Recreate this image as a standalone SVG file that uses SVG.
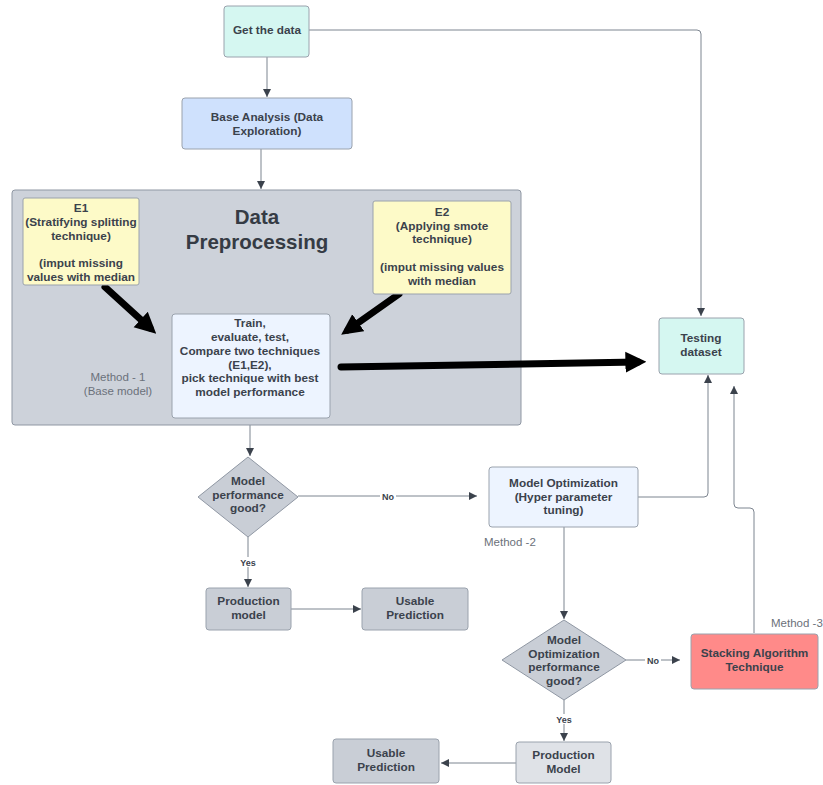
<svg xmlns="http://www.w3.org/2000/svg" width="823" height="785" viewBox="0 0 823 785">
<defs>
<style>
.t{font-family:"Liberation Sans",Arial,sans-serif;font-size:11.8px;font-weight:bold;fill:#3b424c;text-anchor:middle}
.m{font-family:"Liberation Sans",Arial,sans-serif;font-size:11.5px;fill:#6b717a}
.lab{font-family:"Liberation Sans",Arial,sans-serif;font-size:9px;font-weight:bold;fill:#3b424c;text-anchor:middle}
.c{fill:none;stroke:#7d8590;stroke-width:1}
.thick{fill:none;stroke:#000;stroke-width:7;stroke-linecap:round}
.box{stroke:#9aa2ad;stroke-width:1}
</style>
<marker id="a" viewBox="0 0 10 10" refX="10" refY="5" markerWidth="8" markerHeight="8" markerUnits="userSpaceOnUse" orient="auto"><path d="M0,0 L10,5 L0,10 z" fill="#3b424c"/></marker>
<marker id="b" viewBox="0 0 10 10" refX="6" refY="5" markerWidth="3" markerHeight="3.2" orient="auto"><path d="M0,0 L10,5 L0,10 z" fill="#000"/></marker>
</defs>
<g id="connectors">
<path class="c" d="M309,30 H697 Q701,30 701,34 V316" marker-end="url(#a)"/>
<path class="c" d="M267,57 V97" marker-end="url(#a)"/>
<path class="c" d="M261,149 V189" marker-end="url(#a)"/>
<path class="c" d="M250,418 V456" marker-end="url(#a)"/>
<path class="c" d="M298,496 H477" marker-end="url(#a)"/>
<path class="c" d="M248,537 V587" marker-end="url(#a)"/>
<path class="c" d="M291,609 H361" marker-end="url(#a)"/>
<path class="c" d="M638,497 H704 Q708,497 708,493 V375" marker-end="url(#a)"/>
<path class="c" d="M754,633 V512 Q754,508 750,508 H738 Q734,508 734,504 V386" marker-end="url(#a)"/>
<path class="c" d="M564,527 V619" marker-end="url(#a)"/>
<path class="c" d="M626,660 H680" marker-end="url(#a)"/>
<path class="c" d="M564,700 V741" marker-end="url(#a)"/>
<path class="c" d="M516,763 H441" marker-end="url(#a)"/>
</g>
<g id="container">
<rect x="12" y="190" width="509" height="235" rx="3" fill="#cdd2da" stroke="#8f97a3" stroke-width="1"/>
<text x="257" y="224" style="font-family:'Liberation Sans',Arial,sans-serif;font-size:20.5px;font-weight:bold;fill:#353b44;text-anchor:middle">Data</text>
<text x="257" y="249" style="font-family:'Liberation Sans',Arial,sans-serif;font-size:20.5px;font-weight:bold;fill:#353b44;text-anchor:middle">Preprocessing</text>
<text class="m" x="118" y="381" text-anchor="middle">Method - 1</text>
<text class="m" x="118" y="394.5" text-anchor="middle">(Base model)</text>
</g>
<g id="thick-arrows">
<path class="thick" d="M105,287 L150,328" marker-end="url(#b)"/>
<path class="thick" d="M399,294 L348,330" marker-end="url(#b)"/>
<path class="thick" d="M341,367 L638,362" marker-end="url(#b)"/>
</g>
<g id="get-data">
<rect class="box" x="224" y="6" width="85" height="51" rx="3" fill="#d5f7f1"/>
<text class="t" x="267" y="34">Get the data</text>
</g>
<g id="base-analysis">
<rect class="box" x="182" y="98" width="170" height="51" rx="3" fill="#cfe1fd"/>
<text class="t" x="267" y="121">Base Analysis (Data</text>
<text class="t" x="267" y="134.5">Exploration)</text>
</g>
<g id="e1">
<rect class="box" x="23" y="198" width="116" height="87" rx="2" fill="#fdfac8"/>
<text class="t" x="81" y="212">E1</text>
<text class="t" x="81" y="225.5">(Stratifying splitting</text>
<text class="t" x="81" y="239.5">technique)</text>
<text class="t" x="81" y="267">(imput missing</text>
<text class="t" x="81" y="281">values with median</text>
</g>
<g id="e2">
<rect class="box" x="373" y="201" width="138" height="93" rx="2" fill="#fdfac8"/>
<text class="t" x="442" y="215.5">E2</text>
<text class="t" x="442" y="229.5">(Applying smote</text>
<text class="t" x="442" y="243">technique)</text>
<text class="t" x="442" y="271">(imput missing values</text>
<text class="t" x="442" y="284.5">with median</text>
</g>
<g id="train">
<rect class="box" x="172" y="314" width="158" height="104" rx="3" fill="#edf4ff"/>
<text class="t" x="250" y="327">Train,</text>
<text class="t" x="250" y="341">evaluate, test,</text>
<text class="t" x="250" y="354.5">Compare two techniques</text>
<text class="t" x="250" y="368.5">(E1,E2),</text>
<text class="t" x="250" y="382">pick technique with best</text>
<text class="t" x="250" y="395.5">model performance</text>
</g>
<g id="testing">
<rect class="box" x="659" y="318" width="85" height="56" rx="3" fill="#d5f7f1"/>
<text class="t" x="701" y="342">Testing</text>
<text class="t" x="701" y="355.5">dataset</text>
</g>
<g id="decision1">
<polygon points="248,457 298,497 248,537 198,497" fill="#c9ced6" stroke="#8f97a3" stroke-width="1"/>
<text class="t" x="248" y="485">Model</text>
<text class="t" x="248" y="498.5">performance</text>
<text class="t" x="248" y="512">good?</text>
</g>
<g id="labels">
<rect x="380" y="491" width="16" height="10" fill="#fff"/>
<text class="lab" x="388" y="499.5">No</text>
<rect x="238" y="557" width="20" height="10" fill="#fff"/>
<text class="lab" x="248" y="565.5">Yes</text>
<rect x="645" y="655" width="16" height="10" fill="#fff"/>
<text class="lab" x="653" y="663.5">No</text>
<rect x="554" y="714" width="20" height="10" fill="#fff"/>
<text class="lab" x="564" y="722.5">Yes</text>
</g>
<g id="production1">
<rect class="box" x="206" y="588" width="85" height="42" rx="3" fill="#c9ced6"/>
<text class="t" x="248.5" y="605">Production</text>
<text class="t" x="248.5" y="618.5">model</text>
</g>
<g id="usable1">
<rect class="box" x="362" y="588" width="106" height="42" rx="3" fill="#c9ced6"/>
<text class="t" x="415" y="605">Usable</text>
<text class="t" x="415" y="618.5">Prediction</text>
</g>
<g id="model-opt">
<rect class="box" x="489" y="467" width="149" height="60" rx="3" fill="#edf4ff"/>
<text class="t" x="563.5" y="487">Model Optimization</text>
<text class="t" x="563.5" y="500.5">(Hyper parameter</text>
<text class="t" x="563.5" y="514">tuning)</text>
<text class="m" x="484" y="546">Method -2</text>
</g>
<g id="decision2">
<polygon points="564,620 626,660 564,700 502,660" fill="#c9ced6" stroke="#8f97a3" stroke-width="1"/>
<text class="t" x="564" y="644">Model</text>
<text class="t" x="564" y="657.5">Optimization</text>
<text class="t" x="564" y="671">performance</text>
<text class="t" x="564" y="684.5">good?</text>
</g>
<g id="stacking">
<rect class="box" x="691" y="634" width="127" height="55" rx="3" fill="#ff8a89"/>
<text class="t" x="754.5" y="657">Stacking Algorithm</text>
<text class="t" x="754.5" y="671">Technique</text>
<text class="m" x="771" y="627">Method -3</text>
</g>
<g id="production2">
<rect class="box" x="516" y="742" width="95" height="41" rx="3" fill="#dfe2e7"/>
<text class="t" x="563.5" y="759">Production</text>
<text class="t" x="563.5" y="772.5">Model</text>
</g>
<g id="usable2">
<rect class="box" x="333" y="739" width="106" height="44" rx="3" fill="#c9ced6"/>
<text class="t" x="386" y="757">Usable</text>
<text class="t" x="386" y="770.5">Prediction</text>
</g>
</svg>
